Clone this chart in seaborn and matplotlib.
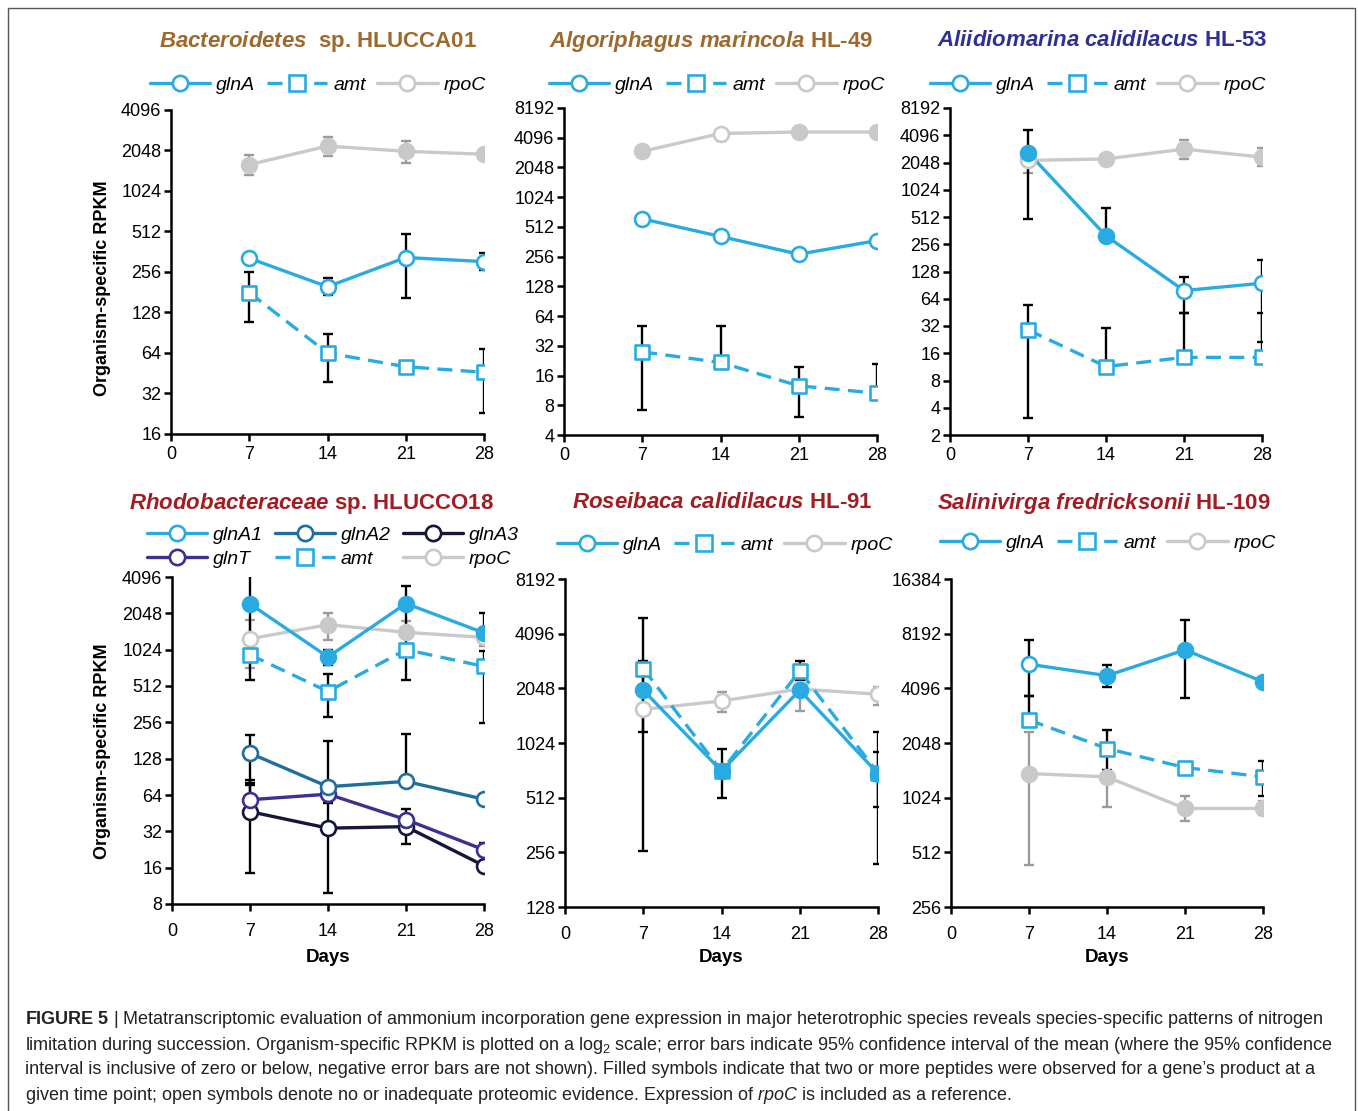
import numpy as np
import pandas as pd
import matplotlib
matplotlib.use("Agg")
import matplotlib.pyplot as plt
import seaborn as sns
from matplotlib.lines import Line2D
from matplotlib.patches import Rectangle
from matplotlib import font_manager as fm
from matplotlib.font_manager import FontProperties
from matplotlib.ticker import NullLocator

nan = np.nan
DAYS = [7, 14, 21, 28]
XTICKS = [0, 7, 14, 21, 28]

# ---------------- data ----------------
# Panel 1: Bacteroidetes sp. HLUCCA01
P1_GLNA = [324, 199, 328, 306]
P1_GLNA_LO = [nan, 172, 163, 265]
P1_GLNA_HI = [nan, 232, 487, 357]
P1_GLNA_FILL = [False, False, False, False]
P1_AMT = [180, 64, 50.6, 46]
P1_AMT_LO = [108, 39, nan, 22.8]
P1_AMT_HI = [258, 89, nan, 69]
P1_AMT_FILL = [False, False, False, False]
P1_RPOC = [1607, 2210, 2020, 1920]
P1_RPOC_LO = [1351, 1856, 1641, nan]
P1_RPOC_HI = [1884, 2592, 2400, nan]
P1_RPOC_FILL = [True, True, True, True]

# Panel 2: Algoriphagus marincola HL-49
P2_GLNA = [618, 410, 271, 372]
P2_GLNA_LO = [nan, nan, nan, nan]
P2_GLNA_HI = [nan, nan, nan, nan]
P2_GLNA_FILL = [False, False, False, False]
P2_AMT = [27.8, 21.7, 12.6, 10.6]
P2_AMT_LO = [7.1, nan, 6.06, nan]
P2_AMT_HI = [51, 51, 19.7, 20.8]
P2_AMT_FILL = [False, False, False, False]
P2_RPOC = [2980, 4520, 4680, 4680]
P2_RPOC_LO = [nan, 3770, nan, nan]
P2_RPOC_HI = [nan, nan, nan, nan]
P2_RPOC_FILL = [True, False, True, True]

# Panel 3: Aliidiomarina calidilacus HL-53
P3_GLNA = [2640, 317, 78.8, 95]
P3_GLNA_LO = [484, nan, 44.3, 21.5]
P3_GLNA_HI = [4700, 643, 110, 172]
P3_GLNA_FILL = [True, True, False, False]
P3_AMT = [29, 11.4, 14.4, 14.4]
P3_AMT_LO = [3.05, nan, nan, nan]
P3_AMT_HI = [55, 30.3, 44, 44]
P3_AMT_FILL = [False, False, False, False]
P3_RPOC = [2160, 2240, 2880, 2350]
P3_RPOC_LO = [1560, nan, 2240, 1860]
P3_RPOC_HI = [nan, nan, 3590, 2940]
P3_RPOC_FILL = [False, True, True, True]

# Panel 4: Rhodobacteraceae sp. HLUCCO18
P4_GLNA1 = [2450, 891, 2470, 1410]
P4_GLNA1_LO = [570, 770, 1520, nan]
P4_GLNA1_HI = [4330, 1010, 3420, 2060]
P4_GLNA1_FILL = [True, True, True, True]
P4_GLNA2 = [142, 75, 83, 59]
P4_GLNA2_LO = [78, nan, nan, nan]
P4_GLNA2_HI = [202, 180, 204, nan]
P4_GLNA2_FILL = [False, False, False, False]
P4_GLNA3 = [46.6, 34, 35, 16.6]
P4_GLNA3_LO = [14.4, 9.8, 25, nan]
P4_GLNA3_HI = [85, 55, nan, nan]
P4_GLNA3_FILL = [False, False, False, False]
P4_GLNT = [58.5, 65, 40, 22.5]
P4_GLNT_LO = [nan, nan, nan, nan]
P4_GLNT_HI = [80, nan, 49, 25.8]
P4_GLNT_FILL = [False, False, False, False]
P4_AMT = [929, 461, 1024, 744]
P4_AMT_LO = [nan, 286, 576, 252]
P4_AMT_HI = [nan, 643, 1500, 990]
P4_AMT_FILL = [False, False, False, False]
P4_RPOC = [1260, 1650, 1425, 1295]
P4_RPOC_LO = [720, 1235, nan, 1100]
P4_RPOC_HI = [1810, 2060, 1760, nan]
P4_RPOC_FILL = [False, True, True, False]

# Panel 5: Roseibaca calidilacus HL-91
P5_GLNA = [2000, 718, 2000, 695]
P5_GLNA_LO = [1180, nan, nan, 455]
P5_GLNA_HI = [2880, nan, 2290, 916]
P5_GLNA_FILL = [True, True, True, True]
P5_AMT = [2630, 718, 2550, 700]
P5_AMT_LO = [260, 508, nan, 220]
P5_AMT_HI = [5000, 955, 2900, 1180]
P5_AMT_FILL = [False, True, False, True]
P5_RPOC = [1570, 1745, 2030, 1900]
P5_RPOC_LO = [nan, 1520, 1540, 1660]
P5_RPOC_HI = [nan, 1965, nan, 2090]
P5_RPOC_FILL = [False, False, False, False]

# Panel 6: Salinivirga fredricksonii HL-109
P6_GLNA = [5560, 4810, 6670, 4450]
P6_GLNA_LO = [3740, 4180, 3610, 4200]
P6_GLNA_HI = [7590, 5480, 9740, 4700]
P6_GLNA_FILL = [False, True, True, True]
P6_AMT = [2740, 1910, 1500, 1333]
P6_AMT_LO = [nan, 1460, nan, 1050]
P6_AMT_HI = [3740, 2400, nan, 1620]
P6_AMT_FILL = [False, False, False, False]
P6_RPOC = [1390, 1333, 893, 893]
P6_RPOC_LO = [434, 910, 760, 820]
P6_RPOC_HI = [2350, nan, 1050, 980]
P6_RPOC_FILL = [True, True, True, True]

P1_YTICKS = [16, 32, 64, 128, 256, 512, 1024, 2048, 4096]
P2_YTICKS = [4, 8, 16, 32, 64, 128, 256, 512, 1024, 2048, 4096, 8192]
P3_YTICKS = [2, 4, 8, 16, 32, 64, 128, 256, 512, 1024, 2048, 4096, 8192]
P4_YTICKS = [8, 16, 32, 64, 128, 256, 512, 1024, 2048, 4096]
P5_YTICKS = [128, 256, 512, 1024, 2048, 4096, 8192]
P6_YTICKS = [256, 512, 1024, 2048, 4096, 8192, 16384]

TITLES = [
    r"$\mathbfit{Bacteroidetes}$  sp. HLUCCA01",
    r"$\mathbfit{Algoriphagus\ marincola}$ HL-49",
    r"$\mathbfit{Aliidiomarina\ calidilacus}$ HL-53",
    r"$\mathbfit{Rhodobacteraceae}$ sp. HLUCCO18",
    r"$\mathbfit{Roseibaca\ calidilacus}$ HL-91",
    r"$\mathbfit{Salinivirga\ fredricksonii}$ HL-109",
]
YLABEL = "Organism-specific RPKM"
XLABEL = "Days"
CAPTION = [
    r"$\mathbf{FIGURE\ 5}$ | Metatranscriptomic evaluation of ammonium incorporation gene expression in major heterotrophic species reveals species-specific patterns of nitrogen",
    r"limitation during succession. Organism-specific RPKM is plotted on a log$_{2}$ scale; error bars indicate 95% confidence interval of the mean (where the 95% confidence",
    "interval is inclusive of zero or below, negative error bars are not shown). Filled symbols indicate that two or more peptides were observed for a gene\u2019s product at a",
    r"given time point; open symbols denote no or inadequate proteomic evidence. Expression of $\mathit{rpoC}$ is included as a reference.",
]

# ---------------- style ----------------
BLUE = "#29ABE2"
GLNA2_C = "#1E6E9E"
GLNA3_C = "#15163A"
GLNT_C = "#3A3190"
GREY = "#C9C9C9"
GREY_ERR = "#9A9A9A"
BROWN = "#9C6A2D"
NAVY_T = "#2E3192"
RED_T = "#A11D22"
DASH = (0, (4.5, 2.5))

STYLE = {
    "glnA": (BLUE, "-", "o"),
    "glnA1": (BLUE, "-", "o"),
    "glnA2": (GLNA2_C, "-", "o"),
    "glnA3": (GLNA3_C, "-", "o"),
    "glnT": (GLNT_C, "-", "o"),
    "amt": (BLUE, DASH, "s"),
    "rpoC": (GREY, "-", "o"),
}

sns.set_theme(style="ticks")
avail = {f.name for f in fm.fontManager.ttflist}
BASE = "Liberation Sans Narrow" if "Liberation Sans Narrow" in avail else "Liberation Sans"
NARROW = BASE.endswith("Narrow")
K = 1.18 if NARROW else 1.0
plt.rcParams["font.family"] = [BASE, "DejaVu Sans"]
plt.rcParams["mathtext.fontset"] = "custom"
plt.rcParams["mathtext.rm"] = BASE
plt.rcParams["mathtext.it"] = BASE + ":italic"
plt.rcParams["mathtext.bf"] = BASE + ":bold"
plt.rcParams["mathtext.bfit"] = BASE + ":italic:bold"
plt.rcParams["text.color"] = "black"
plt.rcParams["axes.labelcolor"] = "black"
plt.rcParams["xtick.color"] = "black"
plt.rcParams["ytick.color"] = "black"

TITLE_FS = 16 * K
TICK_FS = 13 * K
LEG_FS = 14 * K
LABEL_FS = 13 * K
CAP_FS = 13 * K

W, H = 1358, 1111
fig = plt.figure(figsize=(W / 100, H / 100), dpi=100)
fig.patch.set_facecolor("white")


def fx(x):
    return x / W


def fy(y):
    return 1 - y / H


def add_ax(l, r, t, b):
    return fig.add_axes([fx(l), fy(b), fx(r) - fx(l), (b - t) / H])


def draw_series(ax, name, vals, lo, hi, filled):
    color, ls, mk = STYLE[name]
    vals = np.asarray(vals, float)
    lo = np.asarray(lo, float)
    hi = np.asarray(hi, float)
    sns.lineplot(x=DAYS, y=vals, ax=ax, color=color, linewidth=2.4,
                 linestyle=ls, zorder=2, legend=False)
    lower = np.where(np.isnan(lo), 0.0, vals - lo)
    upper = np.where(np.isnan(hi), 0.0, hi - vals)
    ecol = GREY_ERR if name == "rpoC" else "black"
    ax.errorbar(DAYS, vals, yerr=[lower, upper], fmt="none", ecolor=ecol,
                elinewidth=1.7, capsize=3.5, capthick=1.7, zorder=3)
    filled = np.asarray(filled, bool)
    d = np.asarray(DAYS)
    if filled.any():
        sns.scatterplot(x=d[filled], y=vals[filled], ax=ax, marker=mk, s=115,
                        color=color, edgecolor=color, linewidth=1.9, zorder=4,
                        legend=False)
    if (~filled).any():
        sns.scatterplot(x=d[~filled], y=vals[~filled], ax=ax, marker=mk, s=115,
                        color="white", edgecolor=color, linewidth=1.9, zorder=4,
                        legend=False)


def style_ax(ax, ylim, yticks, xpad):
    ax.set_yscale("log", base=2)
    ax.set_ylim(ylim)
    ax.set_xlim(0, 28)
    ax.set_xticks(XTICKS)
    ax.set_xticklabels([str(t) for t in XTICKS])
    ax.set_yticks(yticks)
    ax.set_yticklabels([str(t) for t in yticks])
    ax.yaxis.set_minor_locator(NullLocator())
    sns.despine(ax=ax)
    for s in ("left", "bottom"):
        ax.spines[s].set_linewidth(1.8)
        ax.spines[s].set_color("black")
    ax.tick_params(axis="both", direction="out", length=5, width=1.8,
                   color="black", labelsize=TICK_FS, pad=2,
                   left=True, bottom=True)
    ax.tick_params(axis="x", pad=xpad)
    ax.set_xlabel("")
    ax.set_ylabel("")
    ax.patch.set_alpha(0)
    for sp in ax.spines.values():
        sp.set_clip_on(False)


def handle(name):
    color, ls, mk = STYLE[name]
    return Line2D([0], [0], color=color, linestyle=ls, linewidth=2.4,
                  marker=mk, markersize=11, markerfacecolor="white",
                  markeredgecolor=color, markeredgewidth=1.9)


LEG_PROP = FontProperties(family=[BASE, "DejaVu Sans"], style="italic", size=LEG_FS)


def add_legend(names, cx, cy, ncol):
    fig.legend([handle(n) for n in names], names, loc="center",
               bbox_to_anchor=(fx(cx), fy(cy)), ncol=ncol, frameon=False,
               prop=LEG_PROP, handlelength=3.1 / K, handletextpad=0.3,
               columnspacing=0.6, numpoints=1, labelspacing=0.35,
               borderpad=0.1)


panels = [
    dict(rect=(171, 484, 110, 434), ylim=(16, 4096), yt=P1_YTICKS,
         series=[("glnA", P1_GLNA, P1_GLNA_LO, P1_GLNA_HI, P1_GLNA_FILL),
                 ("amt", P1_AMT, P1_AMT_LO, P1_AMT_HI, P1_AMT_FILL),
                 ("rpoC", P1_RPOC, P1_RPOC_LO, P1_RPOC_HI, P1_RPOC_FILL)],
         title=TITLES[0], tcol=BROWN, tpos=(318, 41), leg=(318, 85)),
    dict(rect=(564, 877, 108, 435), ylim=(4, 8192), yt=P2_YTICKS,
         series=[("glnA", P2_GLNA, P2_GLNA_LO, P2_GLNA_HI, P2_GLNA_FILL),
                 ("amt", P2_AMT, P2_AMT_LO, P2_AMT_HI, P2_AMT_FILL),
                 ("rpoC", P2_RPOC, P2_RPOC_LO, P2_RPOC_HI, P2_RPOC_FILL)],
         title=TITLES[1], tcol=BROWN, tpos=(711, 41), leg=(717, 85)),
    dict(rect=(950, 1262, 108, 435), ylim=(2, 8192), yt=P3_YTICKS,
         series=[("glnA", P3_GLNA, P3_GLNA_LO, P3_GLNA_HI, P3_GLNA_FILL),
                 ("amt", P3_AMT, P3_AMT_LO, P3_AMT_HI, P3_AMT_FILL),
                 ("rpoC", P3_RPOC, P3_RPOC_LO, P3_RPOC_HI, P3_RPOC_FILL)],
         title=TITLES[2], tcol=NAVY_T, tpos=(1102, 41), leg=(1098, 85)),
    dict(rect=(172, 484, 577, 904), ylim=(8, 4096), yt=P4_YTICKS,
         series=[("rpoC", P4_RPOC, P4_RPOC_LO, P4_RPOC_HI, P4_RPOC_FILL),
                 ("glnA3", P4_GLNA3, P4_GLNA3_LO, P4_GLNA3_HI, P4_GLNA3_FILL),
                 ("glnT", P4_GLNT, P4_GLNT_LO, P4_GLNT_HI, P4_GLNT_FILL),
                 ("glnA2", P4_GLNA2, P4_GLNA2_LO, P4_GLNA2_HI, P4_GLNA2_FILL),
                 ("amt", P4_AMT, P4_AMT_LO, P4_AMT_HI, P4_AMT_FILL),
                 ("glnA1", P4_GLNA1, P4_GLNA1_LO, P4_GLNA1_HI, P4_GLNA1_FILL)],
         title=TITLES[3], tcol=RED_T, tpos=(311, 503), leg=(333, 547)),
    dict(rect=(565, 878, 579, 907), ylim=(128, 8192), yt=P5_YTICKS,
         series=[("rpoC", P5_RPOC, P5_RPOC_LO, P5_RPOC_HI, P5_RPOC_FILL),
                 ("glnA", P5_GLNA, P5_GLNA_LO, P5_GLNA_HI, P5_GLNA_FILL),
                 ("amt", P5_AMT, P5_AMT_LO, P5_AMT_HI, P5_AMT_FILL)],
         title=TITLES[4], tcol=RED_T, tpos=(722, 503), leg=(725, 545)),
    dict(rect=(951, 1263, 579, 907), ylim=(256, 16384), yt=P6_YTICKS,
         series=[("rpoC", P6_RPOC, P6_RPOC_LO, P6_RPOC_HI, P6_RPOC_FILL),
                 ("amt", P6_AMT, P6_AMT_LO, P6_AMT_HI, P6_AMT_FILL),
                 ("glnA", P6_GLNA, P6_GLNA_LO, P6_GLNA_HI, P6_GLNA_FILL)],
         title=TITLES[5], tcol=RED_T, tpos=(1104, 503), leg=(1108, 543)),
]

for i, p in enumerate(panels):
    ax = add_ax(*p["rect"])
    order = p["series"]
    if i < 3:
        order = [order[2], order[1], order[0]]
    for s in order:
        draw_series(ax, *s)
    style_ax(ax, p["ylim"], p["yt"], 3.5 if i < 3 else 8.5)
    fig.text(fx(p["tpos"][0]), fy(p["tpos"][1]), p["title"], ha="center",
             va="center", color=p["tcol"], fontsize=TITLE_FS, fontweight="bold")
    if i == 3:
        add_legend(["glnA1", "glnT", "glnA2", "amt", "glnA3", "rpoC"],
                   *p["leg"], ncol=3)
    else:
        add_legend(["glnA", "amt", "rpoC"], *p["leg"], ncol=3)
    l, r, t, b = p["rect"]
    if i >= 3:
        fig.text(fx((l + r) / 2), fy(958), XLABEL, ha="center", va="center",
                 fontsize=LABEL_FS + 0.5, fontweight="bold")

fig.text(fx(103), fy(288), YLABEL, rotation=90, ha="center", va="center",
         fontsize=LABEL_FS, fontweight="bold")
fig.text(fx(103), fy(751), YLABEL, rotation=90, ha="center", va="center",
         fontsize=LABEL_FS, fontweight="bold")

for j, line in enumerate(CAPTION):
    fig.text(fx(25), fy(1020 + 25 * j), line, ha="left", va="center",
             fontsize=CAP_FS, color="#222222")

fig.add_artist(Rectangle((fx(8), -0.02), fx(1355) - fx(8), fy(8) + 0.02,
                         transform=fig.transFigure, fill=False,
                         edgecolor="#555555", linewidth=1.0))

fig.savefig("out.png", dpi=100, facecolor="white")
